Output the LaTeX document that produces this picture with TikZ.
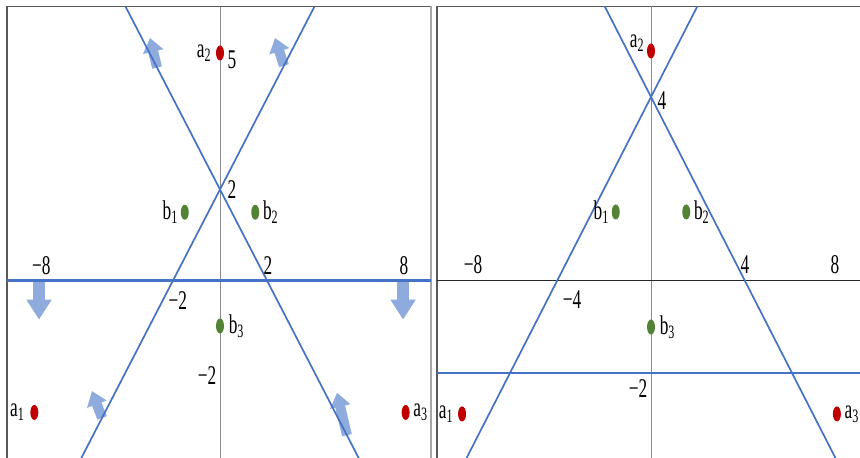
\documentclass[tikz,border=0pt]{standalone}
\usepackage{fontspec}
\setmainfont{Liberation Serif}
\usetikzlibrary{arrows.meta, positioning, shapes.geometric}
\definecolor{lineblue}{RGB}{68,114,196}
\definecolor{arrowblue}{RGB}{143,170,220}
\definecolor{dotred}{RGB}{192,0,0}
\definecolor{dotgreen}{RGB}{84,130,53}
\newcommand{\cnd}[1]{\scalebox{0.64}[1]{#1}}

\begin{document}
\begin{tikzpicture}[x=0.5pt, y=0.5pt,
  lbl/.style={font=\fontsize{13.5}{15}\selectfont, inner sep=0.5pt},
  reddot/.style={ellipse, fill=dotred, minimum width=4pt, minimum height=7.5pt, inner sep=0pt},
  greendot/.style={ellipse, fill=dotgreen, minimum width=4pt, minimum height=7.5pt, inner sep=0pt},
  bound/.style={lineblue, line width=0.85pt},
  wall/.style={lineblue, line width=1.3pt},
  downarrow/.style={arrowblue, line width=6pt, -{Triangle[width=12pt, length=10pt]}},
  tiltarrow/.style={arrowblue, line width=5pt, -{Triangle[width=10pt, length=7pt]}}]
  \useasboundingbox (0,0) rectangle (860,458);
  % Panel frames
  \draw[black!65, line width=0.7pt] (7,0) -- (7,451.5) -- (431,451.5);
  \draw[black!35, line width=0.9pt] (431,451.5) -- (431,0);
  \draw[black!65, line width=0.7pt] (437,0) -- (437,451.5) -- (860,451.5);

  % Left panel
  \begin{scope}[shift={(110pt,88.75pt)}, x=11.75pt, y=22.75pt]
    \clip (-9.06,-3.9) rectangle (8.98,6.01);
    % Axis
    \draw[black!45, line width=0.5pt] (0,-5) -- (0,7);
    % Half-plane arrows
    \draw[downarrow] (-7.7,0) -- (-7.7,-0.86);
    \draw[downarrow] (7.79,0) -- (7.79,-0.86);
    \draw[tiltarrow] (-2.68,4.68) -- (-2.98,5.33);
    \draw[tiltarrow] (2.72,4.72) -- (2.34,5.33);
    \draw[tiltarrow] (-5.02,-3.02) -- (-5.45,-2.43);
    \draw[tiltarrow] (5.40,-3.40) -- (4.98,-2.47);
    % Boundary lines
    \draw[wall] (-10,0) -- (10,0);
    \draw[bound] (-5,7) -- (7,-5);
    \draw[bound] (-7,-5) -- (5,7);
    % Tick labels
    \node[lbl] (lxm8) at (-7.6,0.32) {\cnd{−8}};
    \node[lbl] (lxp8) at (7.83,0.32) {\cnd{8}};
    \node[lbl] (lxp2) at (2.04,0.32) {\cnd{2}};
    \node[lbl] (lxm2) at (-1.79,-0.45) {\cnd{−2}};
    \node[lbl] (lyp2) at (0.51,1.99) {\cnd{2}};
    \node[lbl] (lyp5) at (0.51,4.86) {\cnd{5}};
    \node[lbl] (lym2) at (-0.55,-2.08) {\cnd{−2}};
    % Points
    \node[reddot] (la1) at (-7.9,-2.9) {};
    \node[reddot] (la2) at (0,5) {};
    \node[reddot] (la3) at (7.9,-2.9) {};
    \node[greendot] (lb1) at (-1.5,1.5) {};
    \node[greendot] (lb2) at (1.5,1.5) {};
    \node[greendot] (lb3) at (0,-1) {};
    \node[lbl, left=2pt of la1] {\cnd{a\textsubscript{1}}};
    \node[lbl, left=1.5pt of la2] {\cnd{a\textsubscript{2}}};
    \node[lbl, right=1pt of la3] {\cnd{a\textsubscript{3}}};
    \node[lbl, left=0.5pt of lb1] {\cnd{b\textsubscript{1}}};
    \node[lbl, right=1pt of lb2] {\cnd{b\textsubscript{2}}};
    \node[lbl, right=1.5pt of lb3] {\cnd{b\textsubscript{3}}};
  \end{scope}

  % Right panel
  \begin{scope}[shift={(325.5pt,88.5pt)}, x=11.75pt, y=23pt]
    \clip (-9.11,-3.85) rectangle (8.9,5.96);
    % Axes
    \draw[black!45, line width=0.5pt] (0,-5) -- (0,7);
    \draw[black!85, line width=0.5pt] (-10,0) -- (10,0);
    % Boundary lines
    \draw[wall] (-10,-2) -- (10,-2);
    \draw[bound] (-3,7) -- (9,-5);
    \draw[bound] (-9,-5) -- (3,7);
    % Tick labels
    \node[lbl] (rxm8) at (-7.57,0.35) {\cnd{−8}};
    \node[lbl] (rxp8) at (7.83,0.35) {\cnd{8}};
    \node[lbl] (rxp4) at (4.0,0.35) {\cnd{4}};
    \node[lbl] (rxm4) at (-3.36,-0.41) {\cnd{−4}};
    \node[lbl] (ryp4) at (0.47,3.93) {\cnd{4}};
    \node[lbl] (rym2) at (-0.55,-2.33) {\cnd{−2}};
    % Points
    \node[reddot] (ra1) at (-8.04,-2.89) {};
    \node[reddot] (ra2) at (0,5) {};
    \node[reddot] (ra3) at (7.91,-2.89) {};
    \node[greendot] (rb1) at (-1.5,1.5) {};
    \node[greendot] (rb2) at (1.5,1.5) {};
    \node[greendot] (rb3) at (0,-1) {};
    \node[lbl, left=1.5pt of ra1] {\cnd{a\textsubscript{1}}};
    \node[lbl, left=0.5pt of ra2, yshift=4pt] {\cnd{a\textsubscript{2}}};
    \node[lbl, right=1pt of ra3] {\cnd{a\textsubscript{3}}};
    \node[lbl, left=0.5pt of rb1] {\cnd{b\textsubscript{1}}};
    \node[lbl, right=1pt of rb2] {\cnd{b\textsubscript{2}}};
    \node[lbl, right=1.5pt of rb3] {\cnd{b\textsubscript{3}}};
  \end{scope}
\end{tikzpicture}
\end{document}
